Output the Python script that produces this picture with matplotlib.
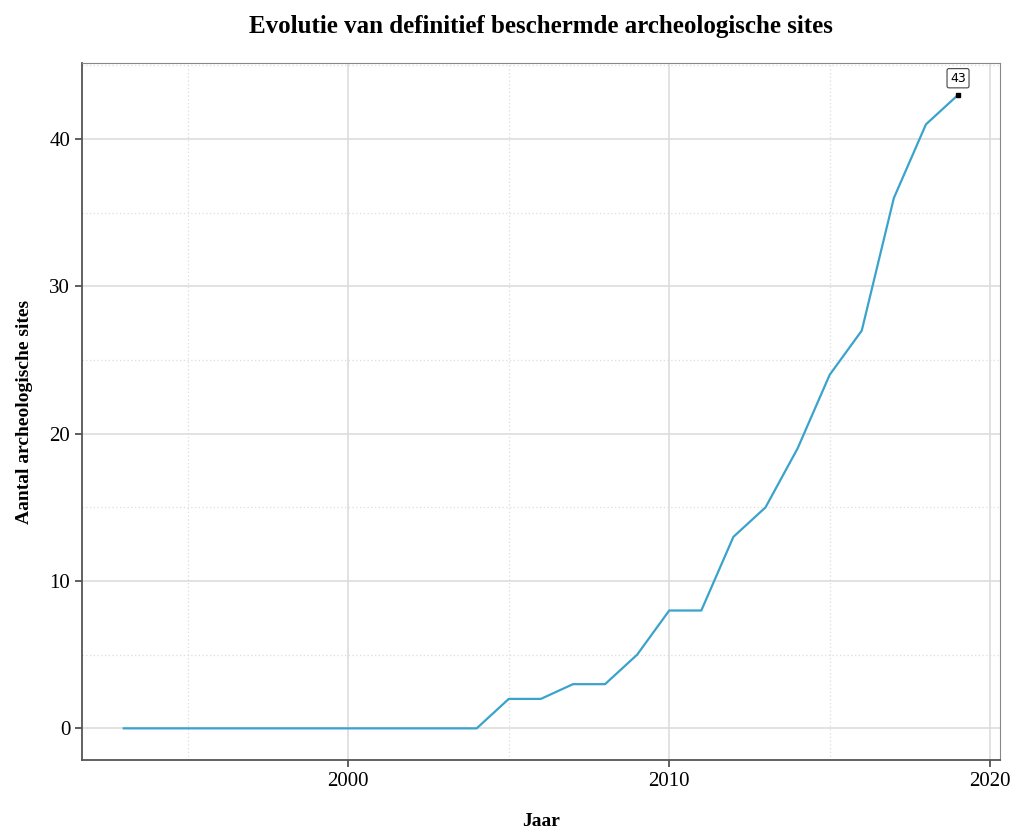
import numpy as np
import matplotlib.pyplot as plt

plt.rcParams['font.family'] = ['Liberation Serif', 'DejaVu Serif']

jaar = list(range(1993, 2020))
aantal = [0, 0, 0, 0, 0, 0, 0, 0, 0, 0, 0, 0, 2, 2, 3, 3, 5, 8, 8, 13, 15, 19, 24, 27, 36, 41, 43]

fig = plt.figure(figsize=(10.16, 8.32), dpi=100)
ax = fig.add_axes([0.0807, 0.0865, 0.9033, 0.8375])

ax.plot(jaar, aantal, color="#3aa3cc", lw=1.6, zorder=3)
ax.plot(jaar[-1], aantal[-1], marker="s", color="black", ms=3.5, zorder=4)
ax.annotate(str(aantal[-1]), (jaar[-1], aantal[-1]), xytext=(0, 12), textcoords="offset points",
            ha="center", va="center", fontsize=9, family="DejaVu Sans",
            bbox=dict(boxstyle="round,pad=0.25,rounding_size=0.15", fc="white", ec="#444444", lw=0.8))

ax.set_xlim(1991.7, 2020.3)
ax.set_ylim(-2.15, 45.15)
ax.set_xticks([2000, 2010, 2020])
ax.set_yticks([0, 10, 20, 30, 40])
ax.set_xticks([1995, 2005, 2015], minor=True)
ax.set_yticks([5, 15, 25, 35, 45], minor=True)
ax.grid(which="major", color="#dddddd", lw=1.2)
ax.grid(which="minor", color="#dddddd", lw=0.9, linestyle=(0, (1, 2)))
ax.tick_params(which="minor", length=0)
ax.tick_params(which="major", length=5, width=1.2, color="#444444", labelsize=15)
for s in ["left", "bottom"]:
    ax.spines[s].set_color("#555555")
    ax.spines[s].set_linewidth(1.3)
for s in ["top", "right"]:
    ax.spines[s].set_color("#888888")
    ax.spines[s].set_linewidth(0.8)

ax.set_xlabel("Jaar", fontsize=14, fontweight="bold", labelpad=16)
ax.set_ylabel("Aantal archeologische sites", fontsize=14, fontweight="bold", labelpad=12)
ax.set_title("Evolutie van definitief beschermde archeologische sites", fontsize=18, fontweight="bold", pad=22)

fig.savefig("out.png", dpi=100)
